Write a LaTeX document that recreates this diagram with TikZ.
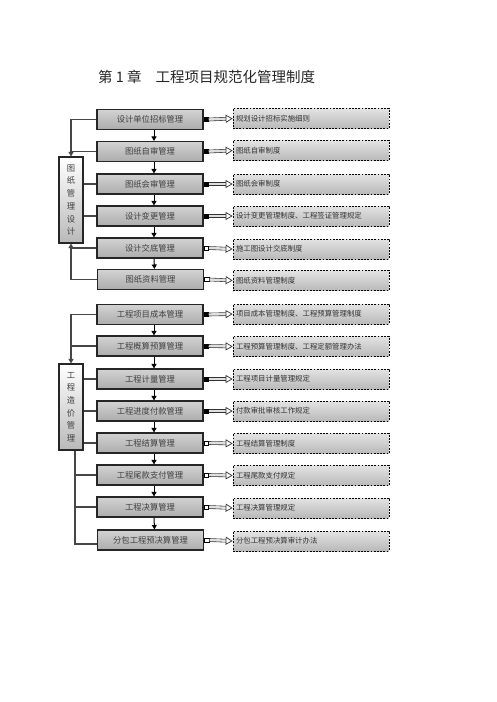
\documentclass[tikz,border=0pt]{standalone}
\usepackage{fontspec}
\newfontfamily\cjk{Noto Sans CJK SC}
\usetikzlibrary{arrows.meta}
\begin{document}
\begin{tikzpicture}[x=1pt,y=-1pt,
  mbox/.style={draw=black!85, line width=1.1pt, minimum width=106pt, minimum height=20pt, inner sep=0pt,
    top color=gray!35, middle color=gray!6, bottom color=gray!65,
    font=\cjk\fontsize{8.3}{9}\selectfont, text=black!75},
  dbox/.style={draw=black, dash pattern=on 1.8pt off 1.4pt, line width=0.7pt, minimum width=156pt, minimum height=20pt,
    inner ysep=0pt, inner xsep=3pt, text width=150pt, align=left,
    top color=gray!22, middle color=gray!4, bottom color=gray!55,
    font=\cjk\fontsize{7.4}{8}\selectfont, text=black!80},
  lbox/.style={draw=black!85, line width=1.1pt, minimum width=24pt, minimum height=86pt, inner sep=0pt,
    top color=white, bottom color=gray!55, align=center,
    font=\cjk\fontsize{8.3}{12.7}\selectfont, text=black!75},
  sqb/.style={draw=black, fill=black, line width=0.6pt, minimum width=4.6pt, minimum height=4pt, inner sep=0pt, anchor=west},
  sqw/.style={draw=black, fill=white, line width=0.9pt, minimum width=4.6pt, minimum height=4pt, inner sep=0pt, anchor=west},
  dar/.style={draw=black!80, line width=0.6pt, double=gray!25, double distance=2.4pt,
    -{Triangle[open,fill=white,width=8pt,length=7pt,line width=0.7pt]}},
  lc/.style={draw=gray!55!black, line width=1.1pt},
  tip/.style={-{Triangle[width=5pt,length=4.5pt]}},
  darr/.style={draw=black, line width=1pt, -{Triangle[width=5pt,length=4.5pt]}},
  ttl/.style={font=\cjk\fontsize{14.5}{15}\selectfont, text=black!85, inner sep=0pt, anchor=west}
]
\useasboundingbox (0,0) rectangle (496,702);

\node[ttl] (title) at (98,77) {第 1 章\hspace{14pt}工程项目规范化管理制度};

% group 1
\node[mbox] (b1) at (150,119.5) {设计单位招标管理};
\node[mbox] (b2) at (150,151.5) {图纸自审管理};
\node[mbox] (b3) at (150,184) {图纸会审管理};
\node[mbox] (b4) at (150,216) {设计变更管理};
\node[mbox] (b5) at (150,248) {设计交底管理};
\node[mbox] (b6) at (150.5,279.5) {图纸资料管理};

\node[dbox] (d1) at (311,118.5) {规划设计招标实施细则};
\node[dbox] (d2) at (311,150.5) {图纸自审制度};
\node[dbox] (d3) at (311,184) {图纸会审制度};
\node[dbox] (d4) at (311,216) {设计变更管理制度、工程签证管理规定};
\node[dbox] (d5) at (311,249) {施工图设计交底制度};
\node[dbox] (d6) at (311,280.5) {图纸资料管理制度};

\node[lbox] (L1) at (71,200) {图\\纸\\管\\理\\设\\计};

\foreach \i/\s in {1/sqb,2/sqb,3/sqb,4/sqb,5/sqw,6/sqw}{
  \node[\s] (q\i) at (b\i.east) {};
  \draw[dar] (q\i.east) -- (d\i.west);
}
\foreach \i/\j in {1/2,2/3,3/4,4/5,5/6}{
  \draw[darr] ([xshift=4pt]b\i.south) -- ([xshift=4pt]b\j.north);
}
\draw[lc,tip] (b1.west) -| (L1.north);
\draw[lc] (b2.west) -- (b2.west -| L1.north);
\draw[lc] (L1.east |- b3.west) -- (b3.west);
\draw[lc] (L1.east |- b4.west) -- (b4.west);
\draw[lc,tip] (b6.west) -| (L1.south);
\draw[lc] (b5.west) -- (b5.west -| L1.south);

% group 2
\node[mbox] (c1) at (150,314.5) {工程项目成本管理};
\node[mbox] (c2) at (150,346) {工程概算预算管理};
\node[mbox] (c3) at (150,379) {工程计量管理};
\node[mbox] (c4) at (150,411) {工程进度付款管理};
\node[mbox] (c5) at (150,443) {工程结算管理};
\node[mbox] (c6) at (150,475) {工程尾款支付管理};
\node[mbox] (c7) at (150,507) {工程决算管理};
\node[mbox] (c8) at (150.5,540) {分包工程预决算管理};

\node[dbox] (e1) at (311,314) {项目成本管理制度、工程预算管理制度};
\node[dbox] (e2) at (311,346.5) {工程预算管理制度、工程定额管理办法};
\node[dbox] (e3) at (311,379) {工程项目计量管理规定};
\node[dbox] (e4) at (311,411) {付款审批审核工作规定};
\node[dbox] (e5) at (311,443.5) {工程结算管理制度};
\node[dbox] (e6) at (311,475.5) {工程尾款支付规定};
\node[dbox] (e7) at (311,508) {工程决算管理规定};
\node[dbox] (e8) at (311,541) {分包工程预决算审计办法};

\node[lbox] (L2) at (71,407) {工\\程\\造\\价\\管\\理};

\foreach \i/\s in {1/sqb,2/sqb,3/sqb,4/sqb,5/sqw,6/sqw,7/sqw,8/sqw}{
  \node[\s] (r\i) at (c\i.east) {};
  \draw[dar] (r\i.east) -- (e\i.west);
}
\foreach \i/\j in {1/2,2/3,3/4,4/5,5/6,6/7,7/8}{
  \draw[darr] ([xshift=4pt]c\i.south) -- ([xshift=4pt]c\j.north);
}
\draw[lc,tip] (c1.west) -| (L2.north);
\draw[lc] (c2.west) -- (c2.west -| L2.north);
\draw[lc] (L2.east |- c3.west) -- (c3.west);
\draw[lc] (L2.east |- c4.west) -- (c4.west);
\draw[lc] (L2.east |- c5.west) -- (c5.west);
\coordinate (bv) at ([xshift=4pt]L2.south);
\draw[lc] (bv) |- ([yshift=-4pt]c8.west);
\draw[lc] (c6.west) -- (c6.west -| bv);
\draw[lc] (c7.west) -- (c7.west -| bv);
\end{tikzpicture}
\end{document}
